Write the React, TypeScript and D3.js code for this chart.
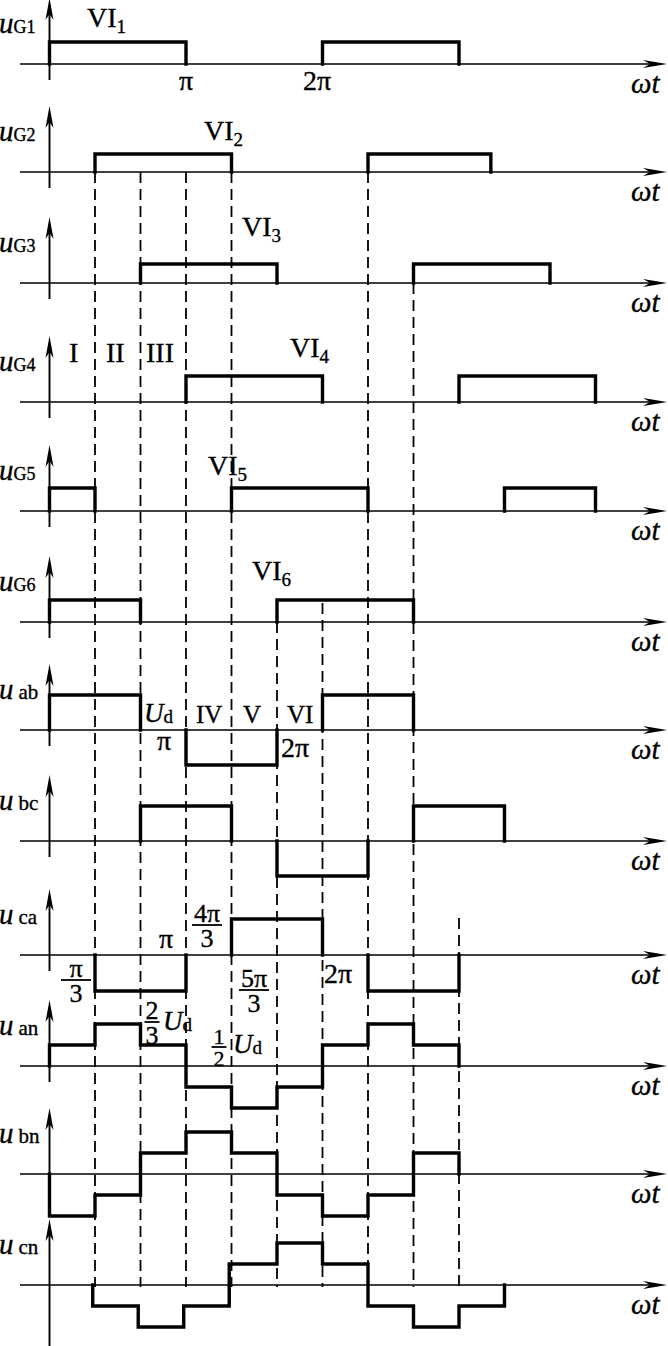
import * as d3 from 'd3';

// Six-step (180°) inverter waveforms. Time is in units of π/3 (60°).
// Each signal: breakpoints T and the level V held from T[i] to T[i+1].
const uG1T = [0, 3, 6, 9];
const uG1V = [1, 0, 1, 0];
const uG2T = [1, 4, 7, 9.7];
const uG2V = [1, 0, 1, 0];
const uG3T = [2, 5, 8, 11];
const uG3V = [1, 0, 1, 0];
const uG4T = [3, 6, 9, 12];
const uG4V = [1, 0, 1, 0];
const uG5T = [0, 1, 4, 7, 10, 12];
const uG5V = [1, 0, 1, 0, 1, 0];
const uG6T = [0, 2, 5, 8];
const uG6V = [1, 0, 1, 0];

// line voltages, in Ud
const uabT = [0, 2, 3, 5, 6, 8];
const uabV = [1, 0, -1, 0, 1, 0];
const ubcT = [2, 4, 5, 7, 8, 10];
const ubcV = [1, 0, -1, 0, 1, 0];
const ucaT = [1, 3, 4, 6, 7, 9];
const ucaV = [-1, 0, 1, 0, -1, 0];

// phase voltages, in Ud
const uanT = [0, 1, 2, 3, 4, 5, 6, 7, 8, 9];
const uanV = [1 / 3, 2 / 3, 1 / 3, -1 / 3, -2 / 3, -1 / 3, 1 / 3, 2 / 3, 1 / 3, 0];
const ubnT = [0, 1, 2, 3, 4, 5, 6, 7, 8, 9];
const ubnV = [-2 / 3, -1 / 3, 1 / 3, 2 / 3, 1 / 3, -1 / 3, -2 / 3, -1 / 3, 1 / 3, 0];
const ucnT = [0.95, 1.95, 2.95, 3.95, 5, 6, 7, 8, 9, 10];
const ucnV = [-1 / 3, -2 / 3, -1 / 3, 1 / 3, 2 / 3, 1 / 3, -1 / 3, -2 / 3, -1 / 3, 0];

const subscripts = ['G1', 'G2', 'G3', 'G4', 'G5', 'G6', 'ab', 'bc', 'ca', 'an', 'bn', 'cn'];
const signalT = [uG1T, uG2T, uG3T, uG4T, uG5T, uG6T, uabT, ubcT, ucaT, uanT, ubnT, ucnT];
const signalV = [uG1V, uG2V, uG3V, uG4V, uG5V, uG6V, uabV, ubcV, ucaV, uanV, ubnV, ucnV];
const switchNames = ['1', '2', '3', '4', '5', '6'];
const dashTimes = [1, 2, 3, 4, 5, 6, 7, 8, 9];

// ---- layout ----
const W = 668;
const H = 1346;
const baselines = [64, 172, 283, 402, 511, 622, 730, 841, 955, 1066, 1174, 1285];
const pxPerUnit = [22, 18, 19, 26, 23, 22, 35, 35, 36, 63, 63, 63];
const dashTop = [172, 172, 172, 172, 622, 603, 172, 283, 918];
const dashBottom = 1287;
const viPos = [[87, 27], [204, 140], [242, 236], [290, 357], [208, 475], [252, 580]];
const serif = '"Liberation Serif", "DejaVu Serif", serif';
const ink = { stroke: '#000', strokeWidth: 0.35 };

const x = d3.scaleLinear().domain([0, 1]).range([49.5, 49.5 + 45.5]);

type Pt = [number, number];

function runs(T: number[], V: number[]): Pt[][] {
  const out: Pt[][] = [];
  let cur: Pt[] | null = null;
  for (let i = 0; i < T.length; i++) {
    if (V[i] !== 0) {
      if (!cur) cur = [[T[i], 0]];
      cur.push([T[i], V[i]]);
      if (i + 1 < T.length) cur.push([T[i + 1], V[i]]);
    } else if (cur) {
      cur.push([T[i], 0]);
      out.push(cur);
      cur = null;
    }
  }
  if (cur) out.push(cur);
  return out;
}

function Arrow({ tx, ty, dir }: { tx: number; ty: number; dir: 'right' | 'up' }) {
  const d = dir === 'right'
    ? `M${tx},${ty} L${tx - 24},${ty - 4} L${tx - 17},${ty} L${tx - 24},${ty + 4} Z`
    : `M${tx},${ty} L${tx - 4},${ty + 22} L${tx},${ty + 16} L${tx + 4},${ty + 22} Z`;
  return <path d={d} fill="#000" />;
}

function Frac({ cx, bar, num, den, size = 26, w = 30 }: { cx: number; bar: number; num: string; den: string; size?: number; w?: number }) {
  return (
    <g fontFamily={serif} fontSize={size} textAnchor="middle" {...ink}>
      <text x={cx} y={bar - 3}>{num}</text>
      <line x1={cx - w / 2} x2={cx + w / 2} y1={bar} y2={bar} stroke="#000" strokeWidth={1.8} />
      <text x={cx} y={bar + size * 0.86}>{den}</text>
    </g>
  );
}

function Ud({ px, py }: { px: number; py: number }) {
  return (
    <text x={px} y={py} fontFamily={serif} fontSize={27} {...ink}>
      <tspan fontStyle="italic">U</tspan>
      <tspan fontSize={19} dy={1}>d</tspan>
    </text>
  );
}

export default function App() {
  const axisRight = 667;
  const axisLeft = 20;
  return (
    <svg width={W} height={H} style={{ position: 'absolute', left: 0, top: 0, background: '#fff' }}>
      {/* dashed sector boundaries */}
      {dashTimes.map((t, i) => (
        <line key={'d' + i} x1={x(t)} x2={x(t)} y1={dashTop[i]} y2={dashBottom}
          stroke="#000" strokeWidth={1.8} strokeDasharray="11 6" />
      ))}

      {baselines.map((base, i) => {
        const y = d3.scaleLinear().domain([0, 1]).range([base, base - pxPerUnit[i]]);
        const line = d3.line<Pt>().x(d => x(d[0])).y(d => y(d[1]));
        const isLast = i === baselines.length - 1;
        return (
          <g key={'p' + i}>
            <line x1={axisLeft} x2={axisRight - 10} y1={base} y2={base} stroke="#000" strokeWidth={1.7} />
            <Arrow tx={axisRight} ty={base} dir="right" />
            <line x1={x(0)} x2={x(0)} y1={base - 54} y2={isLast ? H : base + 16} stroke="#000" strokeWidth={1.9} />
            <Arrow tx={x(0)} ty={base - 66} dir="up" />
            {runs(signalT[i], signalV[i]).map((r, j) => (
              <path key={j} d={line(r) ?? ''} fill="none" stroke="#000" strokeWidth={3.4}
                strokeLinejoin="miter" strokeLinecap="square" />
            ))}
            <text x={-1} y={base - 31} fontFamily={serif} {...ink}>
              <tspan fontStyle="italic" fontSize={29}>u</tspan>
              <tspan fontSize={i < 6 ? 18 : 21} dx={i < 6 ? 0 : 5}>{subscripts[i]}</tspan>
            </text>
            <text x={631} y={base + 29} fontFamily={serif} fontStyle="italic" fontSize={29} {...ink}>ωt</text>
          </g>
        );
      })}

      {/* switch labels */}
      {switchNames.map((n, i) => (
        <text key={'vi' + i} x={viPos[i][0]} y={viPos[i][1]} fontFamily={serif} fontSize={28} {...ink}>
          VI<tspan fontSize={19} dy={6}>{n}</tspan>
        </text>
      ))}

      {/* sector labels */}
      <g fontFamily={serif} fontSize={28} {...ink}>
        <text x={69} y={362}>I</text>
        <text x={106} y={362}>II</text>
        <text x={146} y={362}>III</text>
      </g>
      <g fontFamily={serif} fontSize={25} {...ink}>
        <text x={196} y={723}>IV</text>
        <text x={243} y={723}>V</text>
        <text x={287} y={723}>VI</text>
      </g>

      {/* angle marks */}
      <g fontFamily={serif} fontSize={28} {...ink}>
        <text x={179} y={90}>π</text>
        <text x={303} y={90}>2π</text>
        <text x={157} y={750}>π</text>
        <text x={281} y={757}>2π</text>
        <text x={159} y={948}>π</text>
        <text x={324} y={983}>2π</text>
      </g>
      <Ud px={144} py={722} />
      <Frac cx={207} bar={925} num="4π" den="3" />
      <Frac cx={76} bar={980} num="π" den="3" />
      <Frac cx={254} bar={990} num="5π" den="3" />
      <Frac cx={152} bar={1022} num="2" den="3" w={15} />
      <Ud px={163} py={1030} />
      <Frac cx={219} bar={1047} num="1" den="2" size={22} w={15} />
      <Ud px={233} py={1053} />
    </svg>
  );
}
